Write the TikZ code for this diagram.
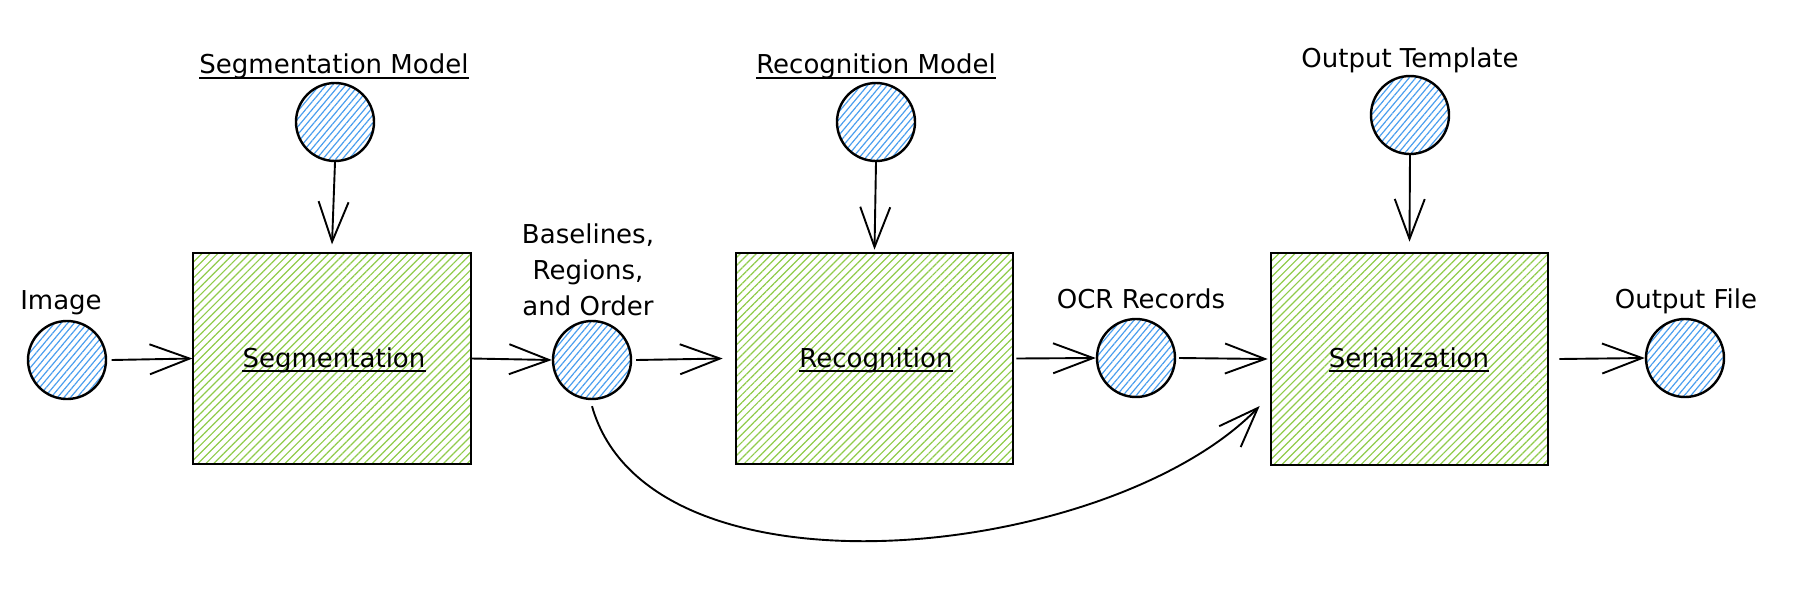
\documentclass[tikz,border=0pt]{standalone}
\usepackage{fontspec}
\setmainfont{DejaVu Sans}
\usetikzlibrary{arrows.meta,patterns.meta}
\definecolor{hblue}{HTML}{4A9EEE}
\definecolor{hgreen}{HTML}{8FCB4A}
\begin{document}
\begin{tikzpicture}[x=1pt,y=-1pt,
  lbl/.style={font=\fontsize{26}{36}\selectfont, anchor=base, inner sep=0pt},
  dot/.style={circle, draw=black, line width=2.4pt, minimum size=78pt, inner sep=0pt,
    pattern={Lines[angle=50,distance=5pt,line width=1.2pt]}, pattern color=hblue},
  stage/.style={rectangle, draw=black, line width=2.6pt, minimum width=278pt, minimum height=211pt, inner sep=0pt,
    pattern={Lines[angle=45,distance=5.6pt,line width=1.2pt]}, pattern color=hgreen},
  flow/.style={line width=1.9pt, -{Straight Barb[length=40pt,width=30pt,line width=1.9pt]}},
  ulline/.style={line width=1.8pt}
]
\path[use as bounding box] (0,0) rectangle (1805,606);

% shapes
\node[dot] (img) at (67,360) {};
\node[dot] (segm) at (335,122) {};
\node[stage] (seg) at (332,358.5) {};
\node[dot] (bl) at (592,360) {};
\node[dot] (recm) at (876,122) {};
\node[stage, minimum width=277pt] (rec) at (874.5,358.5) {};
\node[dot] (ocr) at (1136,358) {};
\node[dot] (ot) at (1410,115) {};
\node[stage, minimum width=277pt, minimum height=212pt] (ser) at (1409.5,359) {};
\node[dot] (of) at (1685,358) {};

% labels
\node[lbl] (segmt) at (334,73) {Segmentation Model};
\node[lbl] (recmt) at (876,73) {Recognition Model};
\node[lbl] (ott) at (1410,67) {Output Template};
\node[lbl] (imgt) at (61,309) {Image};
\node[lbl, align=center, anchor=center] (blt) at (588,270) {Baselines,\\Regions,\\and Order};
\node[lbl] (segt) at (334,367) {Segmentation};
\node[lbl] (rect) at (876,367) {Recognition};
\node[lbl] (sert) at (1409,367) {Serialization};
\node[lbl] (ocrt) at (1141,308) {OCR Records};
\node[lbl] (oft) at (1686,308) {Output File};

% underlines
\draw[ulline] ([yshift=-5pt]segmt.base west) -- ([yshift=-5pt]segmt.base east);
\draw[ulline] ([yshift=-5pt]recmt.base west) -- ([yshift=-5pt]recmt.base east);
\draw[ulline] ([yshift=-4pt]segt.base west) -- ([yshift=-4pt]segt.base east);
\draw[ulline] ([yshift=-4pt]rect.base west) -- ([yshift=-4pt]rect.base east);
\draw[ulline] ([yshift=-4pt]sert.base west) -- ([yshift=-4pt]sert.base east);

% connectors
\draw[flow] ([xshift=5pt]img.east) -- (seg.west);
\draw[flow] (segm.south) -- ([yshift=8pt]seg.north);
\draw[flow] (seg.east) -- (bl.west);
\draw[flow] ([xshift=4pt]bl.east) -- ([xshift=-12pt]rec.west);
\draw[flow] (recm.south) -- ([yshift=2pt]rec.north);
\draw[flow] ([xshift=2pt]rec.east) -- (ocr.west);
\draw[flow] ([xshift=3pt]ocr.east) -- ([xshift=-2pt]ser.west);
\draw[flow] (ot.south) -- ([yshift=10pt]ser.north);
\draw[flow] ([xshift=10pt]ser.east) -- (of.west);
\draw[flow] ([yshift=-6pt]bl.south) .. controls (650,610) and (1110,560) .. ([xshift=-10pt,yshift=-47pt]ser.west);
\end{tikzpicture}
\end{document}
